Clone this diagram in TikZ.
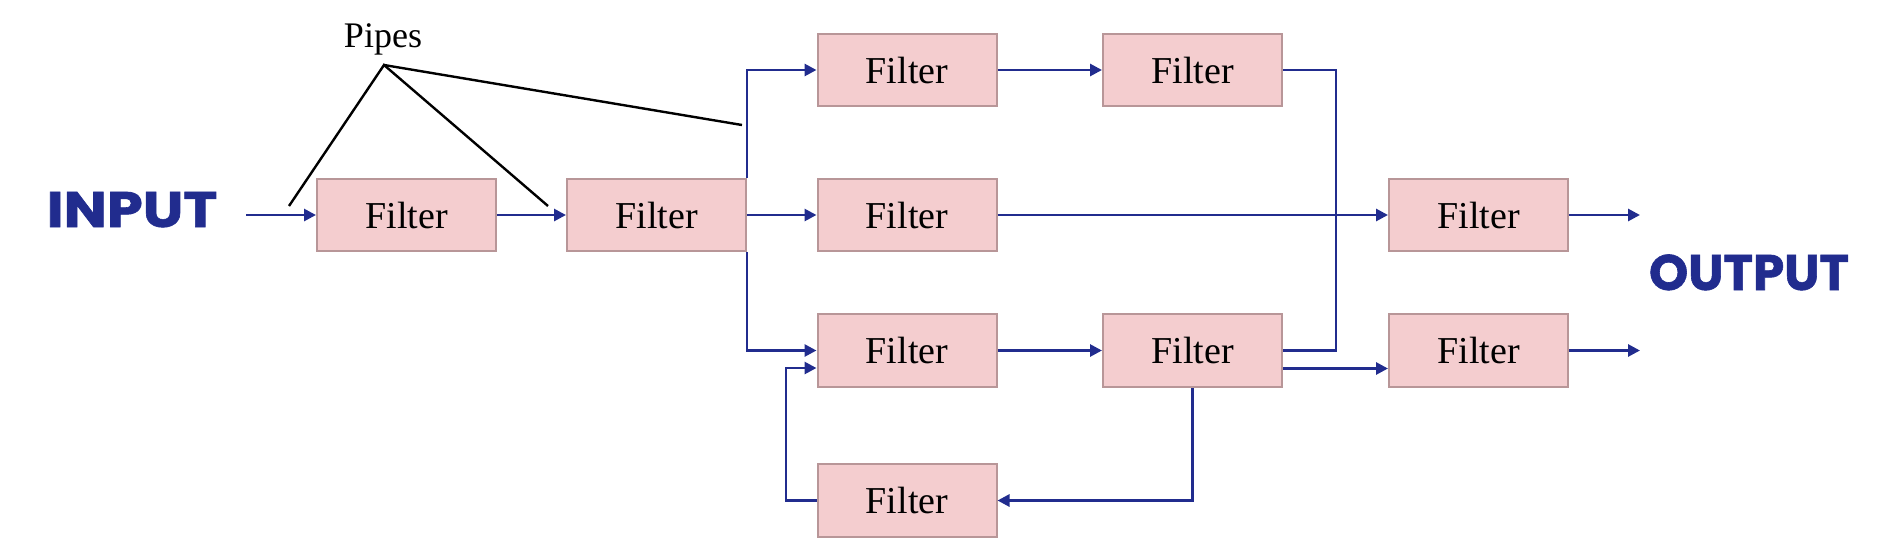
\documentclass[tikz,border=0pt]{standalone}
\usepackage{fontspec}
\setmainfont{Liberation Serif}
\newfontfamily\headfont{Poppins}[BoldFeatures={FakeBold=1.2}]
\usetikzlibrary{arrows.meta}
\definecolor{pipeblue}{RGB}{33,44,142}
\definecolor{boxfill}{RGB}{244,205,207}
\definecolor{boxline}{RGB}{184,150,152}
\tikzset{
  filterbox/.style={draw=boxline, fill=boxfill, line width=1pt, minimum width=89.5pt, minimum height=36.25pt, inner sep=0pt, font=\fontsize{19pt}{22pt}\selectfont},
  pipe/.style={draw=pipeblue, line width=1.4pt},
  pipearrow/.style={pipe, -{Triangle[length=6pt,width=6pt]}},
  label/.style={draw=black, line width=1.2pt},
  bigword/.style={text=pipeblue, font=\headfont\bfseries\fontsize{25pt}{30pt}\selectfont, inner sep=0pt, anchor=base}
}
\begin{document}
\begin{tikzpicture}[x=0.5pt, y=-0.5pt]
\useasboundingbox (0,0) rectangle (1889,547);
% boxes
\node[filterbox] (b1) at (406.5,215) {Filter};
\node[filterbox] (b2) at (656.5,215) {Filter};
\node[filterbox] (b3) at (907,70) {Filter};
\node[filterbox] (b4) at (1192.5,70) {Filter};
\node[filterbox] (b5) at (907,215) {Filter};
\node[filterbox] (b6) at (907,350.5) {Filter};
\node[filterbox] (b7) at (1192.5,350.5) {Filter};
\node[filterbox] (b8) at (907,500.5) {Filter};
\node[filterbox] (b9) at (1478.5,215) {Filter};
\node[filterbox] (b10) at (1478.5,350.5) {Filter};
% texts
\node[bigword] (in) at (132,227) {\scalebox{1.15}[1]{INPUT}};
\node[bigword] (out) at (1749,290) {OUTPUT};
\node[anchor=base, inner sep=0pt, font=\fontsize{18pt}{21pt}\selectfont] (pipes) at (383,47) {Pipes};
% free ends
\coordinate (inStart) at (246,215);
\coordinate (apex) at (384,65);
\coordinate (p1) at (289,206);
\coordinate (p2) at (548,206);
\coordinate (p3) at (742,125);
\coordinate (o1) at (1640,215);
\coordinate (o2) at (1640,350.5);
\coordinate (mergeX) at (1336,70);
\coordinate (loopX) at (786,500.5);
% connectors
\draw[pipearrow] (inStart) -- (b1.west);
\draw[pipearrow] (b1.east) -- (b2.west);
\draw[pipearrow] (b2.east) -- (b5.west);
\draw[pipearrow] (b2.north east) |- (b3.west);
\draw[pipearrow] (b2.south east) |- (b6.west);
\draw[pipearrow] (b3.east) -- (b4.west);
\draw[pipearrow] (b6.east) -- (b7.west);
\draw[pipe] (b4.east) -- (mergeX) |- (b7.east);
\draw[pipearrow] (b5.east) -- (b9.west);
\draw[pipearrow] ([yshift=-9pt]b7.east) -- ([yshift=-9pt]b10.west);
\draw[pipearrow] (b7.south) |- (b8.east);
\draw[pipearrow] (b8.west) -- (loopX) |- ([yshift=-8.75pt]b6.west);
\draw[pipearrow] (b9.east) -- (o1);
\draw[pipearrow] (b10.east) -- (o2);
% pipes labels
\draw[label] (p1) -- (apex) -- (p2);
\draw[label] (apex) -- (p3);
\end{tikzpicture}
\end{document}
